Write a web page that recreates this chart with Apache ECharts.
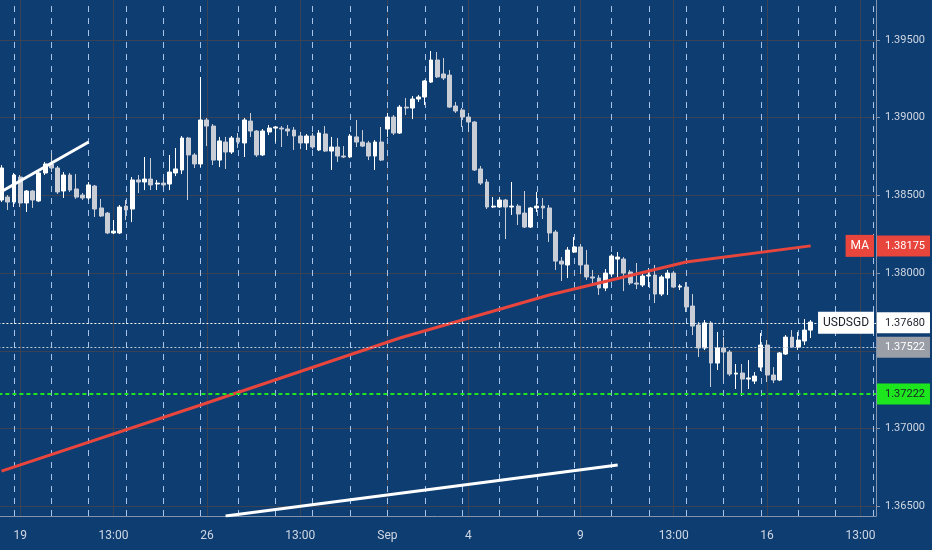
<!DOCTYPE html>
<html lang="en">
<head>
<meta charset="UTF-8">
<title>USDSGD 4H</title>
<script src="https://cdn.jsdelivr.net/npm/echarts@6/dist/echarts.min.js"></script>
<style>
  html, body { margin: 0; padding: 0; background: #0e3d72; }
  #main { width: 932px; height: 550px; }
</style>
</head>
<body>
<div id="main"></div>
<script type="text/javascript">
// 4H candles, Aug 19 - Sep 18
var opens = [1.38470,1.38489,1.38457,1.38618,1.38451,1.38528,1.38464,1.38644,1.38702,1.38676,
  1.38528,1.38631,1.38541,1.38502,1.38483,1.38560,1.38419,1.38386,1.38258,1.38258,
  1.38431,1.38412,1.38599,1.38586,1.38605,1.38573,1.38579,1.38573,1.38644,1.38663,
  1.38869,1.38760,1.38702,1.38985,1.38946,1.38727,1.38843,1.38779,1.38869,1.38837,
  1.38978,1.38914,1.38760,1.38908,1.38933,1.38933,1.38927,1.38920,1.38882,1.38837,
  1.38882,1.38792,1.38895,1.38785,1.38811,1.38753,1.38747,1.38876,1.38843,1.38837,
  1.38753,1.38843,1.38927,1.39004,1.38901,1.39068,1.39062,1.39120,1.39133,1.39229,
  1.39371,1.39281,1.39274,1.39075,1.39049,1.39004,1.38972,1.38670,1.38586,1.38425,
  1.38425,1.38470,1.38425,1.38431,1.38386,1.38296,1.38419,1.38431,1.38419,1.38264,
  1.38077,1.38052,1.38135,1.38168,1.38052,1.37975,1.37968,1.37904,1.37994,1.38090,
  1.38090,1.38007,1.37936,1.37923,1.37981,1.37987,1.37865,1.37968,1.38000,1.37910,
  1.37910,1.37788,1.37666,1.37518,1.37679,1.37421,1.37518,1.37492,1.37350,1.37357,
  1.37318,1.37305,1.37395,1.37537,1.37344,1.37312,1.37479,1.37588,1.37524,1.37563,
  1.37633];
var closes = [1.38676,1.38457,1.38631,1.38451,1.38528,1.38470,1.38644,1.38702,1.38676,1.38522,
  1.38631,1.38534,1.38489,1.38483,1.38567,1.38412,1.38367,1.38258,1.38270,1.38425,
  1.38406,1.38599,1.38586,1.38605,1.38567,1.38579,1.38567,1.38650,1.38670,1.38869,
  1.38760,1.38702,1.38985,1.38946,1.38727,1.38850,1.38779,1.38869,1.38843,1.38985,
  1.38914,1.38760,1.38914,1.38933,1.38940,1.38927,1.38914,1.38882,1.38837,1.38882,
  1.38811,1.38901,1.38785,1.38811,1.38753,1.38747,1.38882,1.38843,1.38817,1.38753,
  1.38843,1.38727,1.39004,1.38901,1.39068,1.39062,1.39120,1.39133,1.39236,1.39371,
  1.39262,1.39255,1.39068,1.39043,1.39004,1.38972,1.38663,1.38579,1.38425,1.38431,
  1.38470,1.38425,1.38431,1.38380,1.38296,1.38419,1.38431,1.38419,1.38258,1.38077,
  1.38058,1.38148,1.38168,1.38052,1.37975,1.37968,1.37904,1.38000,1.38110,1.38103,
  1.38000,1.37936,1.37929,1.37981,1.37987,1.37865,1.37975,1.38000,1.37910,1.37917,
  1.37782,1.37659,1.37518,1.37679,1.37421,1.37518,1.37492,1.37350,1.37357,1.37318,
  1.37325,1.37337,1.37537,1.37344,1.37312,1.37486,1.37588,1.37524,1.37569,1.37633,
  1.37685];
var lows = [1.38457,1.38406,1.38425,1.38425,1.38393,1.38419,1.38457,1.38631,1.38650,1.38509,
  1.38483,1.38522,1.38477,1.38470,1.38470,1.38361,1.38361,1.38251,1.38251,1.38251,
  1.38341,1.38328,1.38515,1.38534,1.38534,1.38534,1.38547,1.38534,1.38624,1.38637,
  1.38470,1.38676,1.38682,1.38817,1.38695,1.38682,1.38670,1.38766,1.38805,1.38747,
  1.38876,1.38747,1.38753,1.38888,1.38843,1.38811,1.38882,1.38792,1.38798,1.38792,
  1.38798,1.38785,1.38779,1.38663,1.38715,1.38740,1.38740,1.38811,1.38811,1.38727,
  1.38663,1.38721,1.38876,1.38888,1.38895,1.39017,1.38991,1.39101,1.39081,1.39223,
  1.39255,1.39242,1.39062,1.39030,1.38940,1.38908,1.38657,1.38567,1.38412,1.38419,
  1.38419,1.38219,1.38374,1.38309,1.38290,1.38290,1.38393,1.38348,1.38200,1.38020,
  1.37949,1.37968,1.38129,1.37994,1.37955,1.37936,1.37859,1.37884,1.37975,1.37975,
  1.37884,1.37923,1.37897,1.37910,1.37910,1.37807,1.37852,1.37859,1.37904,1.37891,
  1.37749,1.37601,1.37460,1.37505,1.37267,1.37376,1.37312,1.37337,1.37254,1.37209,
  1.37254,1.37286,1.37370,1.37299,1.37292,1.37305,1.37473,1.37518,1.37505,1.37537,
  1.37582];
var highs = [1.38695,1.38502,1.38644,1.38631,1.38534,1.38534,1.38650,1.38715,1.38772,1.38689,
  1.38650,1.38644,1.38637,1.38515,1.38586,1.38567,1.38477,1.38393,1.38341,1.38438,
  1.38470,1.38618,1.38631,1.38747,1.38740,1.38599,1.38618,1.38760,1.38805,1.38882,
  1.38876,1.38772,1.39262,1.38998,1.38959,1.38876,1.38876,1.38882,1.38901,1.38998,
  1.39030,1.38920,1.38927,1.38953,1.38946,1.38946,1.38953,1.38940,1.38908,1.38895,
  1.38901,1.38920,1.38946,1.38876,1.38869,1.38817,1.38895,1.38985,1.38920,1.38850,
  1.38856,1.38940,1.39030,1.39017,1.39081,1.39126,1.39139,1.39146,1.39242,1.39429,
  1.39422,1.39384,1.39307,1.39101,1.39062,1.39030,1.38978,1.38689,1.38605,1.38489,
  1.38489,1.38477,1.38586,1.38444,1.38528,1.38425,1.38522,1.38483,1.38438,1.38277,
  1.38103,1.38168,1.38232,1.38187,1.38148,1.38020,1.37987,1.38026,1.38122,1.38135,
  1.38103,1.38020,1.38065,1.38000,1.38032,1.38052,1.37987,1.38020,1.38013,1.37929,
  1.37942,1.37865,1.37685,1.37698,1.37691,1.37621,1.37588,1.37505,1.37415,1.37415,
  1.37440,1.37363,1.37614,1.37569,1.37395,1.37492,1.37601,1.37633,1.37621,1.37704,
  1.37698];

// moving average, read at a few bars
var maIdx = [0, 32, 64, 88, 110, 130];
var maVals = [1.36726, 1.37151, 1.37582, 1.37859, 1.38071, 1.38175];

// hand drawn trend lines
var trend1Idx = [0, 14];
var trend1Vals = [1.38525, 1.38843];
var trend2Idx = [36, 99];
var trend2Vals = [1.36437, 1.36765];

// horizontal levels
var levelMa = 1.38175;
var levelLast = 1.37680;
var levelPrev = 1.37522;
var levelGreen = 1.37222;

// axes
var nBars = 141;
var labelIdx = [3, 18, 33, 48, 62, 75, 93, 108, 123, 138];
var labelText = ['19', '13:00', '26', '13:00', 'Sep', '4', '9', '13:00', '16', '13:00'];
var sessionIdx = [2, 8, 14, 20, 26, 32, 38, 44, 50, 56, 62, 68, 74, 80, 86, 92, 98, 104, 110, 116, 122, 128, 134, 140];
var priceTicks = [1.365, 1.370, 1.375, 1.380, 1.385, 1.390, 1.395];

var FONT = 'Roboto, "Liberation Sans", sans-serif';
var TXT = '#d0d7e2';

var cats = [];
for (var i = 0; i < nBars; i++) cats.push(String(i));

var candles = [];
for (var i = 0; i < opens.length; i++) candles.push([opens[i], closes[i], lows[i], highs[i]]);

var maData = [];
for (var i = 0; i < nBars; i++) maData.push(null);
for (var i = 0; i < maIdx.length; i++) maData[maIdx[i]] = maVals[i];

var gridLines = [];
priceTicks.forEach(function (v) {
    gridLines.push({yAxis: v, lineStyle: {color: '#3a4356', width: 1, type: 'solid'}});
});
labelIdx.forEach(function (k) {
    gridLines.push({xAxis: String(k), lineStyle: {color: '#3a4356', width: 1, type: 'solid'}});
});
sessionIdx.forEach(function (k) {
    gridLines.push({xAxis: String(k), lineStyle: {color: '#a8c4ea', width: 1, type: [6, 6]}});
});

var axisValues = priceTicks.concat([levelMa, levelLast, levelPrev, levelGreen]);

function near(a, b) { return Math.abs(a - b) < 1e-7; }

var boxPad = [5, 5, 5, 8];
function box(bg, fg) {
    return {backgroundColor: bg, color: fg, padding: boxPad, fontFamily: FONT, fontSize: 11};
}

var myChart = echarts.init(document.getElementById('main'));
var option = {
    animation: false,
    backgroundColor: '#0e3d72',
    grid: {left: -1.6, right: 56, top: 0, bottom: 34, containLabel: false, outerBoundsMode: 'none'},
    xAxis: {
        type: 'category',
        data: cats,
        boundaryGap: true,
        axisLine: {show: true, lineStyle: {color: '#8193ad', width: 1}},
        axisTick: {show: false},
        splitLine: {show: false},
        axisLabel: {
            color: TXT, fontFamily: FONT, fontSize: 12, margin: 14,
            interval: function (index) { return labelIdx.indexOf(index) >= 0; },
            formatter: function (v, index) {
                var k = labelIdx.indexOf(index);
                return k >= 0 ? labelText[k] : '';
            }
        }
    },
    yAxis: {
        type: 'value',
        position: 'right',
        min: 1.36437,
        max: 1.39757,
        scale: true,
        axisLine: {show: true, lineStyle: {color: '#8193ad', width: 1}},
        axisTick: {show: true, length: 4, lineStyle: {color: '#8193ad'}, customValues: axisValues},
        splitLine: {show: false},
        axisLabel: {
            customValues: axisValues,
            color: TXT, fontFamily: FONT, fontSize: 11, margin: 1,
            formatter: function (v) {
                var t = v.toFixed(5);
                if (near(v, levelMa)) return '{ma|' + t + '}';
                if (near(v, levelLast)) return '{last|' + t + '}';
                if (near(v, levelPrev)) return '{prev|' + t + '}';
                if (near(v, levelGreen)) return '{grn|' + t + '}';
                return '{n|' + t + '}';
            },
            rich: {
                n: {color: TXT, padding: boxPad, fontFamily: FONT, fontSize: 11},
                ma: box('#e8453c', '#ffffff'),
                last: box('#ffffff', '#1b1f2a'),
                prev: box('#9a9ea6', '#ffffff'),
                grn: box('#1ee61e', '#1b1f2a')
            }
        }
    },
    series: [
        {
            name: 'grid',
            type: 'line',
            data: [],
            z: 1,
            silent: true,
            markLine: {
                z: 1,
                silent: true,
                precision: 6,
                symbol: 'none',
                animation: false,
                label: {show: false},
                data: gridLines
            }
        },
        {
            name: 'USDSGD',
            type: 'candlestick',
            data: candles,
            z: 3,
            barWidth: '70%',
            itemStyle: {
                color: '#ffffff', borderColor: '#ffffff',
                color0: '#c9cdd6', borderColor0: '#c9cdd6',
                borderWidth: 1
            }
        },
        {
            name: 'MA',
            type: 'line',
            data: maData,
            connectNulls: true,
            symbol: 'none',
            z: 4,
            lineStyle: {color: '#e8453c', width: 3}
        },
        {
            name: 'trend1',
            type: 'line',
            data: [[trend1Idx[0], trend1Vals[0]], [trend1Idx[1], trend1Vals[1]]],
            symbol: 'none',
            z: 4,
            lineStyle: {color: '#ffffff', width: 3}
        },
        {
            name: 'trend2',
            type: 'line',
            data: [[trend2Idx[0], trend2Vals[0]], [trend2Idx[1], trend2Vals[1]]],
            symbol: 'none',
            z: 4,
            lineStyle: {color: '#ffffff', width: 3}
        },
        {
            name: 'levels',
            type: 'line',
            data: [],
            z: 6,
            silent: true,
            markLine: {
                z: 6,
                silent: true,
                precision: 6,
                symbol: 'none',
                animation: false,
                data: [
                    {yAxis: levelGreen, lineStyle: {color: '#1ee61e', width: 2, type: [4, 3]}, label: {show: false}},
                    {yAxis: levelPrev, lineStyle: {color: '#c2c8d2', width: 1, type: [2, 2]}, label: {show: false}},
                    {yAxis: levelLast, lineStyle: {color: '#ffffff', width: 1, type: [2, 2]},
                        label: {show: true, position: 'insideEnd', distance: 2, formatter: 'USDSGD',
                            backgroundColor: '#ffffff', color: '#1b1f2a', padding: [5, 5],
                            fontFamily: FONT, fontSize: 12}},
                    {yAxis: levelMa, lineStyle: {color: 'rgba(0,0,0,0)', width: 1},
                        label: {show: true, position: 'insideEnd', distance: 2, formatter: 'MA',
                            backgroundColor: '#e8453c', color: '#ffffff', padding: [5, 5],
                            fontFamily: FONT, fontSize: 12}}
                ]
            }
        }
    ]
};
myChart.setOption(option);
</script>
</body>
</html>
